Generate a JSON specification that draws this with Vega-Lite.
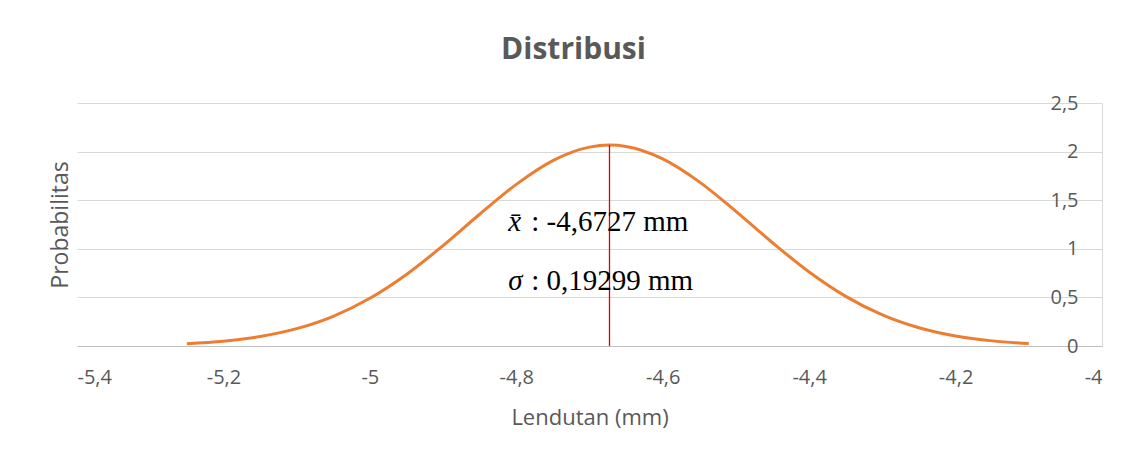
{
  "$schema": "https://vega.github.io/schema/vega-lite/v6.json",
  "width": 1025,
  "height": 243,
  "autosize": {"type": "none"},
  "padding": {"left": 77, "top": 103, "right": 34, "bottom": 115},
  "background": "white",
  "config": {"view": {"stroke": null}, "font": "Open Sans"},
  "title": {"text": "Distribusi", "fontSize": 30, "fontWeight": "bold", "color": "#595959", "font": "Open Sans", "anchor": "middle", "frame": "group", "dx": -16, "offset": 4, "baseline": "alphabetic"},
  "resolve": {"axis": {"y": "independent"}},
  "layer": [
    {
      "data": {"values": [
        {"x": -5.25, "y": 0.0236}, {"x": -5.2, "y": 0.0495}, {"x": -5.15, "y": 0.0971}, {"x": -5.1, "y": 0.1782},
        {"x": -5.05, "y": 0.3058}, {"x": -5.0, "y": 0.4907}, {"x": -4.95, "y": 0.7362}, {"x": -4.9, "y": 1.033},
        {"x": -4.85, "y": 1.3554}, {"x": -4.8, "y": 1.6628}, {"x": -4.75, "y": 1.9077}, {"x": -4.7, "y": 2.0463},
        {"x": -4.6727, "y": 2.067}, {"x": -4.65, "y": 2.0527}, {"x": -4.6, "y": 1.9254}, {"x": -4.55, "y": 1.6888},
        {"x": -4.5, "y": 1.385}, {"x": -4.45, "y": 1.0622}, {"x": -4.4, "y": 0.7617}, {"x": -4.35, "y": 0.5108},
        {"x": -4.3, "y": 0.3202}, {"x": -4.25, "y": 0.1877}, {"x": -4.2, "y": 0.1029}, {"x": -4.15, "y": 0.0528},
        {"x": -4.1, "y": 0.0253}
      ]},
      "mark": {"type": "line", "color": "#ED7D31", "strokeWidth": 3, "interpolate": "monotone"},
      "encoding": {
        "x": {"field": "x", "type": "quantitative",
          "scale": {"domain": [-5.4, -4], "nice": false, "zero": false},
          "axis": {"values": [-5.4, -5.2, -5, -4.8, -4.6, -4.4, -4.2, -4],
            "labelExpr": "replace(toString(round(datum.value * 10) / 10), '.', ',')",
            "title": "Lendutan (mm)", "grid": false, "ticks": false, "tickSize": 0,
            "domain": true, "domainColor": "#bfbfbf", "domainWidth": 1,
            "labelPadding": 21, "labelFontSize": 20, "labelColor": "#595959", "labelFont": "Open Sans",
            "titleFontSize": 22, "titleFontWeight": "normal", "titleColor": "#595959", "titleFont": "Open Sans",
            "titleY": 78, "titleBaseline": "alphabetic"}},
        "y": {"field": "y", "type": "quantitative",
          "scale": {"domain": [0, 2.5], "nice": false},
          "axis": {"orient": "right", "values": [0, 0.5, 1, 1.5, 2, 2.5],
            "labelExpr": "replace(toString(round(datum.value * 10) / 10), '.', ',')",
            "title": null, "grid": true, "gridColor": "#d9d9d9", "gridWidth": 1,
            "ticks": false, "tickSize": 0, "labelAlign": "right", "labelPadding": -24, "labelBaseline": "middle",
            "labelFontSize": 20, "labelColor": "#595959", "labelFont": "Open Sans",
            "domain": true, "domainColor": "#d9d9d9", "domainWidth": 1}}
      }
    },
    {
      "data": {"values": [{"mean": -4.6727, "low": 0, "peak": 2.067}]},
      "mark": {"type": "rule", "color": "#e00000", "strokeWidth": 1.3},
      "encoding": {
        "x": {"field": "mean", "type": "quantitative"},
        "y": {"field": "low", "type": "quantitative",
          "axis": {"orient": "left", "title": "Probabilitas", "labels": false, "ticks": false, "domain": false, "grid": false,
            "titleX": -10, "titleY": 121.5, "titleAngle": -90, "titleBaseline": "alphabetic", "titleAlign": "center",
            "titleFontSize": 23, "titleFontWeight": "normal", "titleColor": "#595959", "titleFont": "Open Sans"}},
        "y2": {"field": "peak"}
      }
    },
    {
      "data": {"values": [
        {"sym": "x̄", "label": ": -4,6727 mm", "px": -4.811, "py": 1.18},
        {"sym": "σ", "label": ": 0,19299 mm", "px": -4.811, "py": 0.575}
      ]},
      "layer": [
        {
          "mark": {"type": "text", "font": "Liberation Serif", "fontStyle": "italic", "fontSize": 29, "align": "left", "baseline": "alphabetic", "color": "#000000"},
          "encoding": {
            "x": {"field": "px", "type": "quantitative"},
            "y": {"field": "py", "type": "quantitative", "axis": null},
            "text": {"field": "sym"}
          }
        },
        {
          "mark": {"type": "text", "font": "Liberation Serif", "fontSize": 29, "align": "left", "baseline": "alphabetic", "color": "#000000", "dx": 23},
          "encoding": {
            "x": {"field": "px", "type": "quantitative"},
            "y": {"field": "py", "type": "quantitative", "axis": null},
            "text": {"field": "label"}
          }
        }
      ]
    }
  ]
}
